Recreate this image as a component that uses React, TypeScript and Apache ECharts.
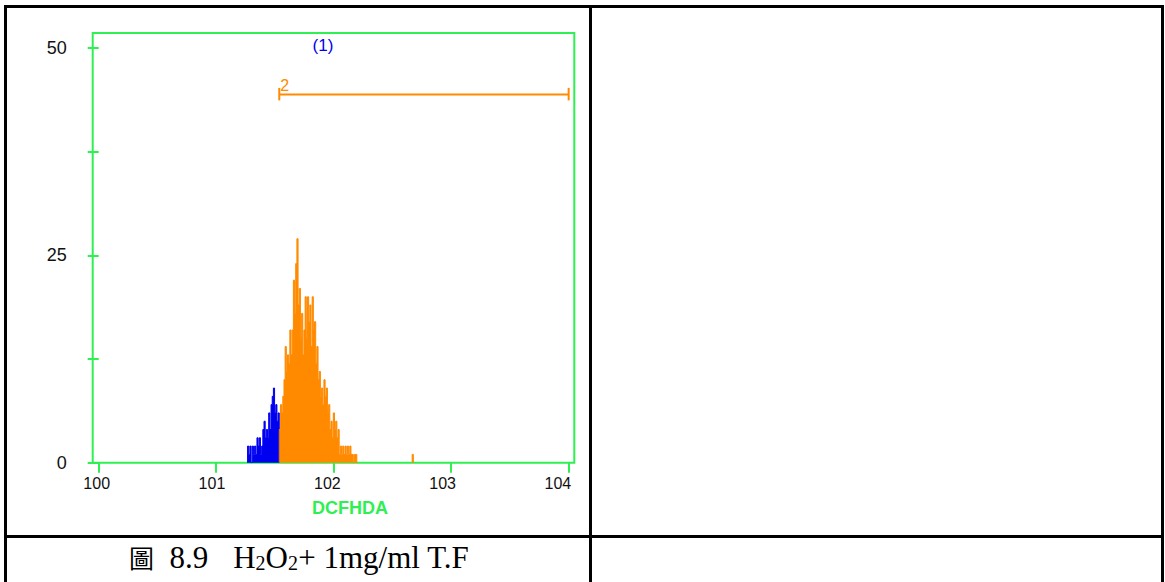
import React, { useEffect, useRef } from "react";
import * as echarts from "echarts";

// ---- axis ticks / labels (x axis = log decades) ----
const xTickValues = [0, 1, 2, 3, 4];
const xTickLabels = ["100", "101", "102", "103", "104"];
const xLabelAt = [-0.017, 0.964, 1.946, 2.927, 3.908];
const yTickValues = [0, 12.5, 25, 37.5, 50];
const yLabelValues = [0, 25, 50];

// ---- histogram channels ----
const binWidth = 0.01;
const blueStart = 1.267;
const blueCounts = [2, 1, 2, 0, 2, 1, 2, 1, 3, 2, 3, 1, 2, 4, 5, 3, 4, 3, 6, 4, 7, 8, 9, 6, 7, 5, 6];
const orangeStart = 1.537;
const orangeCounts = [
  4, 7, 6, 8, 10, 14, 11, 13, 12, 16, 13, 16, 22, 18, 24, 27, 19, 21, 15, 18,
  13, 16, 20, 15, 20, 17, 19, 14, 20, 16, 17, 12, 14, 10, 11, 8, 9, 7, 10, 8,
  9, 6, 7, 4, 5, 3, 6, 4, 5, 3, 4, 1, 2, 1, 2, 1, 2, 1, 2, 1, 2, 1, 1, 0, 1, 1, 0,
];
const orangeBlipStart = 2.668;
const orangeBlipCounts = [1];

// ---- marker / labels ----
const markerRange = [1.537, 4.0];
const markerLevel = 44.4;
const markerName = "2";
const regionLabel = "(1)";
const axisTitle = "DCFHDA";

const GREEN = "#2ef052";
const ORANGE = "#ff8a00";
const BLUE = "#0000f0";

function toSteps(start: number, counts: number[]) {
  const pts: number[][] = [[start, 0]];
  counts.forEach((c, i) => pts.push([start + i * binWidth, c]));
  pts.push([start + counts.length * binWidth, 0]);
  return pts;
}

function histSeries(data: number[][], color: string) {
  return {
    type: "line",
    data,
    step: "end",
    symbol: "none",
    lineStyle: { color, width: 1 },
    areaStyle: { color, opacity: 1 },
    z: 3,
  };
}

export default function App() {
  const ref = useRef<HTMLDivElement>(null);
  useEffect(() => {
    if (!ref.current) return;
    const chart = echarts.init(ref.current, null, { renderer: "svg" });
    const option: any = {
      animation: false,
      backgroundColor: "#ffffff",
      grid: {
        left: 92.7,
        top: 33,
        width: 481.6,
        height: 429.7,
        show: true,
        borderColor: GREEN,
        borderWidth: 2,
        backgroundColor: "transparent",
        containLabel: false,
      },
      xAxis: {
        type: "value",
        min: -0.051,
        max: 4.048,
        axisLine: { show: false },
        splitLine: { show: false },
        axisTick: {
          show: true,
          length: 10,
          inside: false,
          customValues: xTickValues,
          lineStyle: { color: GREEN, width: 2 },
        },
        axisLabel: {
          show: true,
          customValues: xLabelAt,
          margin: 13,
          color: "#111",
          fontSize: 16,
          fontFamily: "Liberation Sans",
          formatter: (v: number) => {
            let best = 0;
            xLabelAt.forEach((p, i) => {
              if (Math.abs(p - v) < Math.abs(xLabelAt[best] - v)) best = i;
            });
            return xTickLabels[best];
          },
        },
      },
      yAxis: {
        type: "value",
        min: 0,
        max: 51.8,
        axisLine: { show: false },
        splitLine: { show: false },
        axisTick: {
          show: true,
          length: 11,
          inside: false,
          customValues: yTickValues,
          lineStyle: { color: GREEN, width: 2 },
        },
        axisLabel: {
          show: true,
          customValues: yLabelValues,
          margin: 26,
          color: "#111",
          fontSize: 18,
          fontFamily: "Liberation Sans",
        },
      },
      series: [
        histSeries(toSteps(blueStart, blueCounts), BLUE),
        histSeries(toSteps(orangeStart, orangeCounts), ORANGE),
        histSeries(toSteps(orangeBlipStart, orangeBlipCounts), ORANGE),
        {
          type: "custom",
          data: [[markerRange[0], markerRange[1], markerLevel]],
          encode: { x: [0, 1], y: 2 },
          z: 4,
          renderItem: (_params: any, api: any) => {
            const p0 = api.coord([api.value(0), api.value(2)]);
            const p1 = api.coord([api.value(1), api.value(2)]);
            const st = { stroke: ORANGE, lineWidth: 2 };
            return {
              type: "group",
              children: [
                { type: "line", shape: { x1: p0[0], y1: p0[1], x2: p1[0], y2: p1[1] }, style: st },
                { type: "line", shape: { x1: p0[0], y1: p0[1] - 6.5, x2: p0[0], y2: p0[1] + 6 }, style: st },
                { type: "line", shape: { x1: p1[0], y1: p1[1] - 6.5, x2: p1[0], y2: p1[1] + 6 }, style: st },
                {
                  type: "text",
                  x: p0[0] + 1,
                  y: p0[1] - 1,
                  style: {
                    text: markerName,
                    fill: ORANGE,
                    fontSize: 16,
                    fontFamily: "Liberation Sans",
                    align: "left",
                    verticalAlign: "bottom",
                  },
                },
              ],
            };
          },
        },
      ],
      graphic: [
        // table borders
        { type: "rect", shape: { x: 4, y: 5, width: 1160, height: 3 }, style: { fill: "#000" } },
        { type: "rect", shape: { x: 4, y: 5, width: 3, height: 580 }, style: { fill: "#000" } },
        { type: "rect", shape: { x: 589, y: 5, width: 3, height: 580 }, style: { fill: "#000" } },
        { type: "rect", shape: { x: 1161, y: 5, width: 3, height: 580 }, style: { fill: "#000" } },
        { type: "rect", shape: { x: 4, y: 535, width: 1160, height: 3 }, style: { fill: "#000" } },
        {
          type: "text",
          x: 323,
          y: 45,
          style: {
            text: regionLabel,
            fill: BLUE,
            fontSize: 17,
            fontFamily: "Liberation Sans",
            align: "center",
            verticalAlign: "middle",
          },
        },
        {
          type: "text",
          x: 350,
          y: 508,
          style: {
            text: axisTitle,
            fill: GREEN,
            fontSize: 18,
            fontWeight: "bold",
            fontFamily: "Liberation Sans",
            align: "center",
            verticalAlign: "middle",
          },
        },
        {
          type: "text",
          x: 299,
          y: 557,
          style: {
            text: "{c|圖}  8.9{c|　}H{s|2}O{s|2}+ 1mg/ml T.F",
            fill: "#000",
            fontSize: 31,
            fontFamily: "Liberation Serif",
            lineHeight: 32,
            align: "center",
            verticalAlign: "middle",
            rich: {
              c: { fontSize: 25, fontFamily: "Noto Sans CJK TC", fill: "#000" },
              s: { fontSize: 20, fontFamily: "Liberation Serif", fill: "#000", verticalAlign: "bottom" },
            },
          },
        },
      ],
    };
    chart.setOption(option);
    return () => chart.dispose();
  }, []);
  return (
    <div
      ref={ref}
      style={{ position: "absolute", left: 0, top: 0, width: 1165, height: 582 }}
    />
  );
}
